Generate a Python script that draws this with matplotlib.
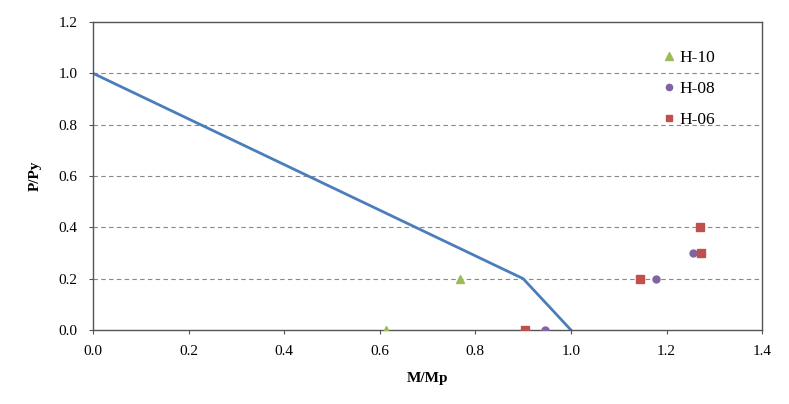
import matplotlib
matplotlib.use("Agg")
import matplotlib.pyplot as plt

curve_m = [0.0, 0.9, 1.0]
curve_p = [1.0, 0.2, 0.0]

h10_m = [0.613, 0.768]
h10_p = [0.0, 0.2]
h08_m = [0.946, 1.178, 1.255]
h08_p = [0.0, 0.2, 0.3]
h06_m = [0.904, 1.144, 1.272, 1.270]
h06_p = [0.0, 0.2, 0.3, 0.4]

xticks = [0.0, 0.2, 0.4, 0.6, 0.8, 1.0, 1.2, 1.4]
yticks = [0.0, 0.2, 0.4, 0.6, 0.8, 1.0, 1.2]

plt.rcParams['font.family'] = ['Liberation Serif', 'DejaVu Serif']
fig = plt.figure(figsize=(7.89, 4.04), dpi=100)
ax = fig.add_axes([0.1179, 0.1832, 0.848, 0.7624])

for y in yticks[1:-1]:
    ax.axhline(y, color='#888888', lw=0.8, ls=(0, (4, 3)), zorder=0)

ax.plot(curve_m, curve_p, color='#4a7ebb', lw=2.0, zorder=2)
ax.plot(h10_m, h10_p, ls='none', marker='^', color='#9bbb59', ms=6, label='H-10', zorder=3)
ax.plot(h08_m, h08_p, ls='none', marker='o', color='#8064a2', ms=5, label='H-08', zorder=3)
ax.plot(h06_m, h06_p, ls='none', marker='s', color='#c0504d', ms=5.5, label='H-06', zorder=3)

ax.set_xlim(0, 1.4)
ax.set_ylim(0, 1.2)
ax.set_xticks(xticks)
ax.set_yticks(yticks)
ax.set_xticklabels([f"{v:.1f}" for v in xticks], fontsize=11)
ax.set_yticklabels([f"{v:.1f}" for v in yticks], fontsize=11)
ax.tick_params(axis='both', direction='out', length=3, width=0.8, color='#555555', pad=8)
for s in ax.spines.values():
    s.set_color('#555555')
    s.set_linewidth(1.0)

ax.set_xlabel('M/Mp', fontsize=11, fontweight='bold', labelpad=10)
ax.set_ylabel('P/Py', fontsize=11, fontweight='bold', labelpad=12)

ax.legend(loc='upper left', bbox_to_anchor=(0.8535, 0.91), frameon=False,
          borderaxespad=0, borderpad=0,
          fontsize=12.5, handlelength=0.6, handletextpad=0.3, labelspacing=0.85,
          markerscale=0.9)

fig.savefig('out.png', dpi=100)
